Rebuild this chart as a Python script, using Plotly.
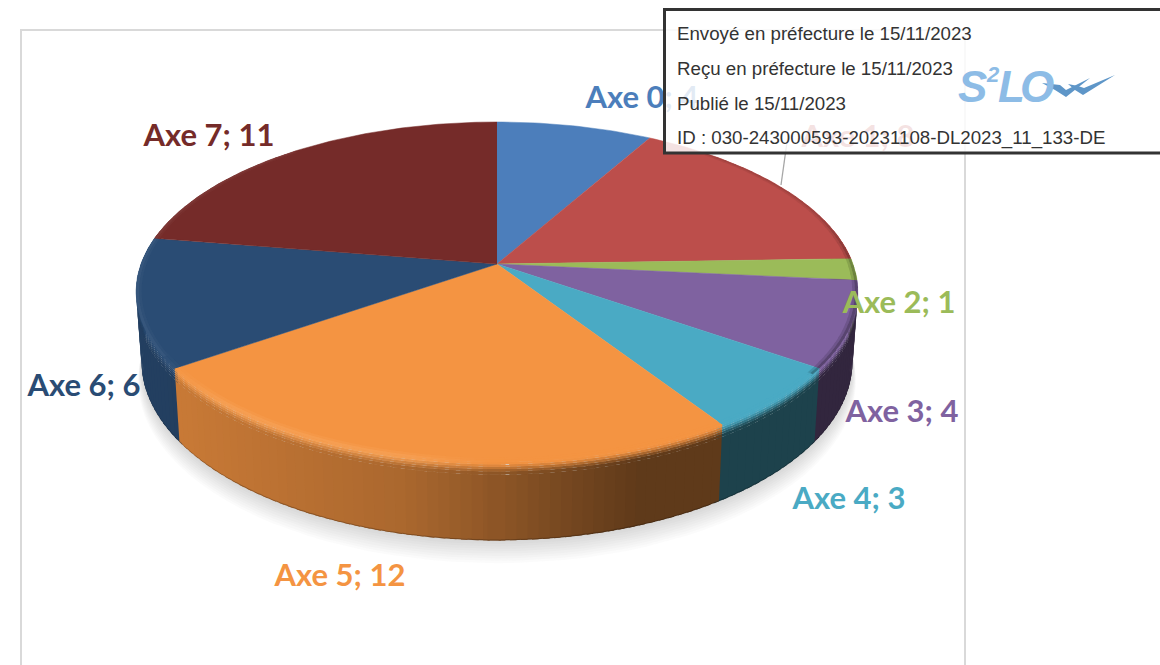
import math
import plotly.graph_objects as go

categories = ["Axe 0", "Axe 1", "Axe 2", "Axe 3", "Axe 4", "Axe 5", "Axe 6", "Axe 7"]
values = [4, 8, 1, 4, 3, 12, 6, 11]
colors = ["#4C7EBB", "#BC4E4B", "#9BBB59", "#7F62A0", "#4AAAC4", "#F49442", "#2A4C74", "#752B29"]
stamp_lines = [
    "Envoyé en préfecture le 15/11/2023",
    "Reçu en préfecture le 15/11/2023",
    "Publié le 15/11/2023",
    "ID : 030-243000593-20231108-DL2023_11_133-DE",
]

# layout constants (pixel-like axes, projected disc)
W, H = 1160, 665
CX, CY, A, B, K, DEPTH, SHRINK = 497, 264, 356, 165.4, 0.1647, 68, 0.015
LABEL_XY = [(642, 100), (858, 139), (899, 305), (902, 414), (849, 501), (340, 578), (84, 388), (209, 138)]
SHADE_STOPS = [(-1.1, 0.84), (-0.9, 0.82), (-0.27, 0.70), (0.0, 0.58), (0.18, 0.49), (0.4, 0.39), (1.1, 0.39)]


def rgb(h):
    return tuple(int(h[i:i + 2], 16) for i in (1, 3, 5))


def mix(c1, c2, t):
    t = max(0.0, min(1.0, t))
    return tuple(a + (b - a) * t for a, b in zip(c1, c2))


def css(c):
    return "rgb(%d,%d,%d)" % tuple(round(v) for v in c)


def smooth(x, a, b):
    t = max(0.0, min(1.0, (x - a) / (b - a)))
    return t * t * (3 - 2 * t)


def top_pt(th, r=1.0):
    X, Y = r * math.sin(th), -r * math.cos(th)
    d = 1 - K * Y
    return CX + A * X / d, CY + B * Y / d


def wall_pt(th, v, extra=0.0):
    X, Y = math.sin(th), -math.cos(th)
    d = 1 - K * Y
    s = 1 - SHRINK * v
    return CX + A * X * s / d, CY + (B * Y * s + DEPTH * v + extra) / d


def wall_factor(th):
    xn = (top_pt(th)[0] - CX) / A
    for (x0, f0), (x1, f1) in zip(SHADE_STOPS[:-1], SHADE_STOPS[1:]):
        if xn <= x1:
            return f0 + (f1 - f0) * (xn - x0) / (x1 - x0)
    return SHADE_STOPS[-1][1]


def rim_colour(base, th, i):
    xn = (top_pt(th)[0] - CX) / A
    # bright catch-light on the lit side, fading out near the middle of the front
    gain = 0.22 * smooth(xn, -0.98, -0.75) * (1 - smooth(xn, -0.3, 0.02))
    return mix(base, (255, 205, 150) if i == 5 else (255, 255, 255), gain)


fig = go.Figure()


def poly(pts, colour, lw=0.0):
    fig.add_trace(go.Scatter(
        x=[p[0] for p in pts], y=[p[1] for p in pts], mode="lines", fill="toself",
        fillcolor=colour, line=dict(color=colour, width=lw), hoverinfo="skip", showlegend=False))


angles = []
tot = sum(values)
acc = 0
for v in values:
    angles.append((acc / tot * 2 * math.pi, (acc + v) / tot * 2 * math.pi))
    acc += v

# soft shadow under the disc
full = [i / 180 * math.pi for i in range(0, 361, 3)]
for off in range(19, 0, -2):
    pts = [wall_pt(t, 1.0, off) for t in full]
    pts = [(CX + (x - CX) * (1 + off * 0.0005), y) for x, y in pts]
    poly(pts, "rgba(110,110,110,0.027)")

# walls: each strip runs on under its nearer neighbour, so no seams show
segs = []
STEP = 1.5
for i, (a0, a1) in enumerate(angles):
    n = max(1, int(math.degrees(a1 - a0) / STEP))
    h = (a1 - a0) / n
    for j in range(n):
        t0, t1 = a0 + h * j, a0 + h * (j + 1)
        tm = (t0 + t1) / 2
        if -math.cos(tm) > -0.22:
            # extend towards the front of the disc
            toward = 1 if -math.cos(t1) > -math.cos(t0) else -1
            if toward > 0:
                t1 += h * 0.6
            else:
                t0 -= h * 0.6
            segs.append((-math.cos(tm), i, t0, t1, tm))
segs.sort(key=lambda s: s[0])
LEVELS = [0.985, 0.16, 0.12, 0.09, 0.06, 0.03, 0.0]
# dark foot first, then wall body, then bands up to the rim, each overlapping the previous
for _, i, t0, t1, tm in segs:
    wall = tuple(c * wall_factor(tm) for c in rgb(colors[i]))
    poly([wall_pt(t0, 0.9), wall_pt(t1, 0.9), wall_pt(t1, 1.0), wall_pt(t0, 1.0)],
         css(tuple(c * 0.78 for c in wall)))
for lo, hi in zip(LEVELS[:-1], LEVELS[1:]):
    for _, i, t0, t1, tm in segs:
        base = rgb(colors[i])
        wall = tuple(c * wall_factor(tm) for c in base)
        rim = rim_colour(base, tm, i)
        col = mix(rim, wall, smooth((lo + hi) / 2, 0.0, 0.15))
        poly([wall_pt(t0, hi), wall_pt(t1, hi), wall_pt(t1, lo), wall_pt(t0, lo)], css(col))

# top faces
for i, (a0, a1) in enumerate(angles):
    n = max(3, int(math.degrees(a1 - a0)))
    pts = [(CX, CY)] + [top_pt(a0 + (a1 - a0) * j / n) for j in range(n + 1)]
    poly(pts, colors[i], 0.5)

# soft bevel on the lit left edge and the shaded right edge of the top faces
for i, (a0, a1) in enumerate(angles):
    base = rgb(colors[i])
    n = max(1, int(math.degrees(a1 - a0) / 2))
    h = (a1 - a0) / n
    for j in range(n):
        t0, t1 = a0 + h * j, a0 + h * (j + 1)
        tm = (t0 + t1) / 2
        X, Y = math.sin(tm), -math.cos(tm)
        if Y < -0.75:
            continue
        if X < 0 and Y < 0.5:
            rim = mix(base, (255, 255, 255), 0.07)
            bands = [(0.985, 0.992, 0.35), (0.992, 1.0, 0.8)]
        elif X >= 0 and Y < 0.6:
            rim = tuple(c * (0.62 + 0.2 * smooth(-Y, -0.1, 0.4)) for c in base)
            bands = [(0.985, 0.992, 0.35), (0.992, 1.0, 0.8)]
        else:
            rim = rim_colour(base, tm, i)
            bands = [(0.982, 0.991, 0.35), (0.991, 1.0, 0.8)]
        t2 = min(a1, t1 + h * 0.3)
        for r0, r1, w in bands:
            poly([top_pt(t0, r0), top_pt(t2, r0), top_pt(t2, r1), top_pt(t0, r1)], css(mix(base, rim, w)))

# frame + leader line drawn beneath the labels
frame = dict(type="rect", xref="x", yref="y", x0=21, x1=965, y0=30, y1=690,
             line=dict(color="#D9D9D9", width=2), fillcolor="rgba(0,0,0,0)", layer="below")
leader = dict(type="line", xref="x", yref="y", x0=781, y0=185, x1=788, y1=135,
              line=dict(color="#A6A6A6", width=1.3), layer="below")

# data labels as real text traces, so the translucent stamp can veil them
for i, cat in enumerate(categories):
    fig.add_trace(go.Scatter(
        x=[LABEL_XY[i][0]], y=[LABEL_XY[i][1]], mode="text",
        text=["%s; %d" % (cat, values[i])], textposition="middle center",
        textfont=dict(family="Lato", size=31, color=colors[i], weight="bold"),
        hoverinfo="skip", showlegend=False))

stamp = dict(type="rect", xref="x", yref="y", x0=664.5, x1=1175, y0=9.5, y1=153,
             line=dict(color="#333333", width=3), fillcolor="rgba(255,255,255,0.84)", layer="above")
check_a = dict(type="path", xref="x", yref="y", layer="above", fillcolor="#5E96C8", line=dict(width=0),
               path="M1042,83 L1060,85 L1066,90 L1090,78 L1066,97 L1055,90 Z")
check_b = dict(type="path", xref="x", yref="y", layer="above", fillcolor="#5E96C8", line=dict(width=0),
               path="M1068,84 L1078,86 L1084,88 L1115,75 L1083,95 L1075,90 Z")
fig.update_layout(shapes=[frame, leader, stamp, check_a, check_b])

annots = []
for y, txt in zip((33, 68, 103, 138), stamp_lines):
    annots.append(dict(x=675, y=y, xref="x", yref="y", text=txt, showarrow=False, xanchor="left", yanchor="middle",
                       font=dict(family="Liberation Sans", size=18.7, color="#333333")))
for x, y, txt, size in [(972, 86, "S", 44), (993, 74, "2", 22), (1011, 86, "L", 44), (1037, 86, "O", 44)]:
    annots.append(dict(x=x, y=y, xref="x", yref="y", text="<b><i>%s</i></b>" % txt, showarrow=False,
                       font=dict(family="Liberation Sans", size=size, color="#8DBCE6")))
fig.update_layout(
    annotations=annots,
    width=W, height=H, margin=dict(l=0, r=0, t=0, b=0),
    paper_bgcolor="white", plot_bgcolor="white", showlegend=False,
    xaxis=dict(range=[0, W], visible=False, fixedrange=True),
    yaxis=dict(range=[H, 0], visible=False, fixedrange=True),
)
fig.write_html("out.html", config=dict(displayModeBar=False),
               post_script="document.body.style.margin='0';document.documentElement.style.overflow='hidden';")
